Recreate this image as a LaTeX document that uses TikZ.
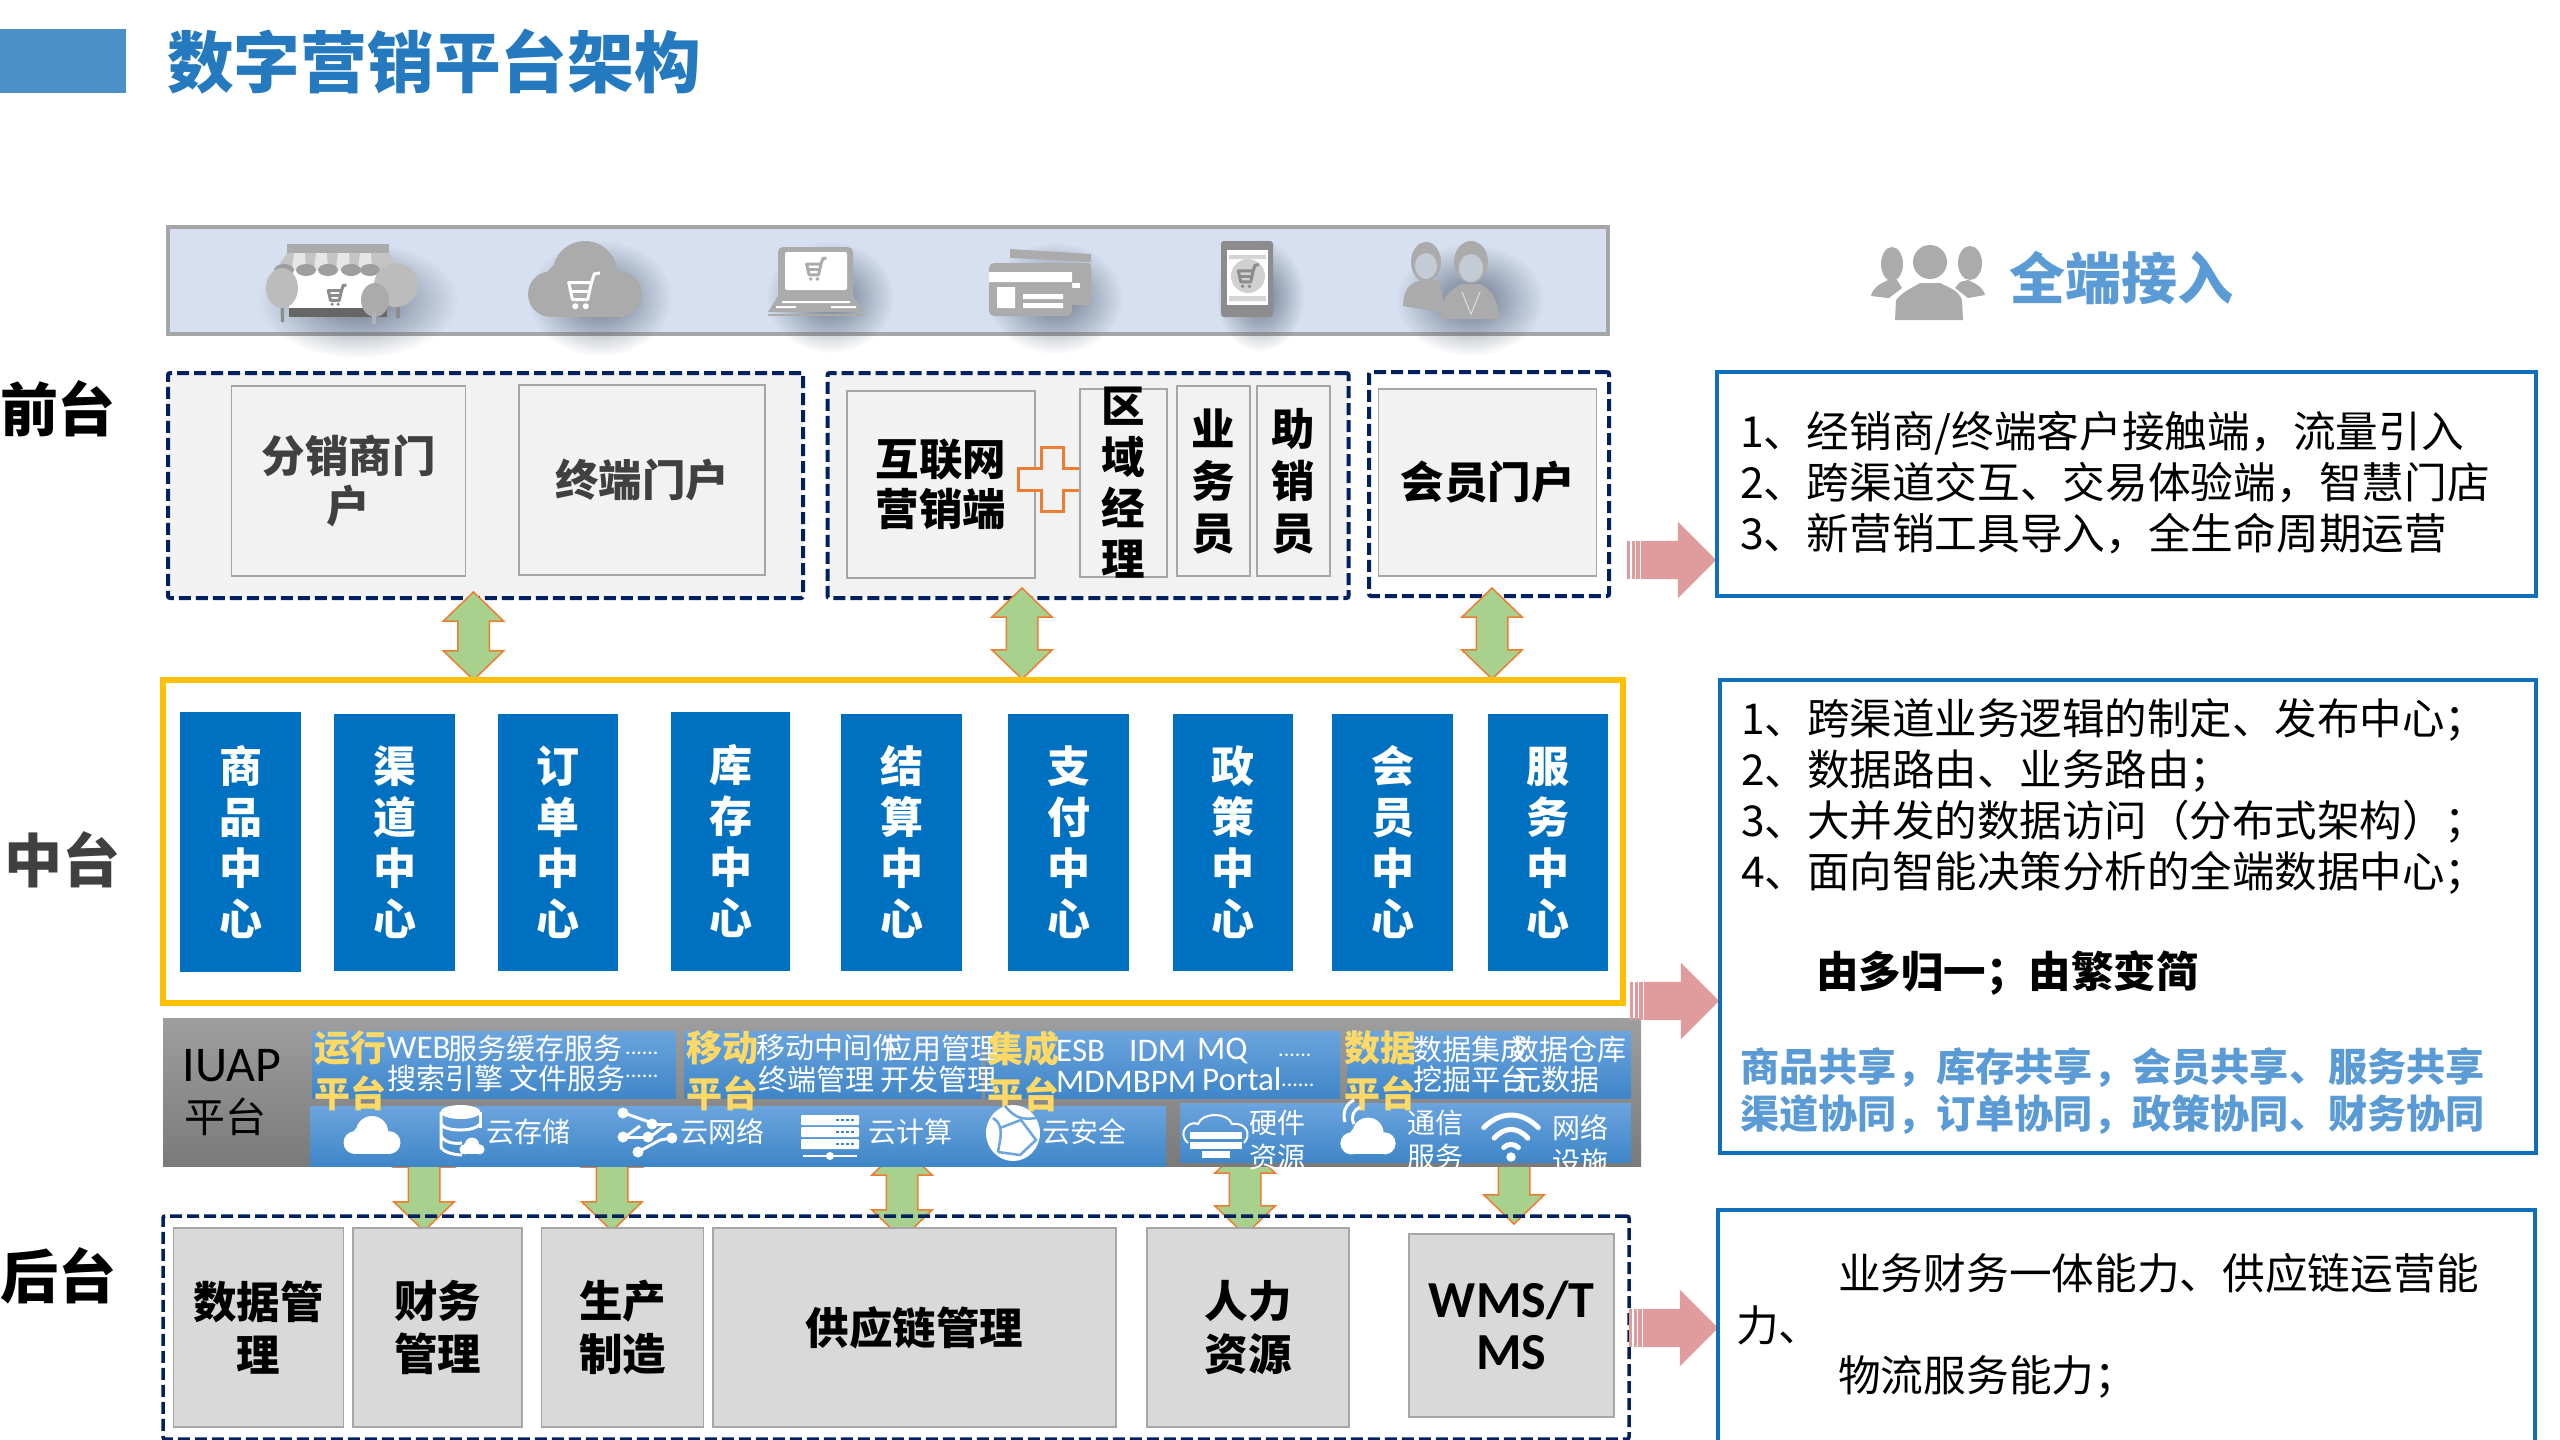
\documentclass[tikz,border=0pt]{standalone}
\usepackage{fontspec}
\setmainfont{Noto Sans CJK SC}
\newfontfamily\latinfont{Carlito}
\usetikzlibrary{shapes.arrows,fadings}
\definecolor{navydash}{HTML}{002060}
\definecolor{boxgray}{HTML}{A6A6A6}
\definecolor{panelgray}{HTML}{F2F2F2}
\definecolor{backgray}{HTML}{D9D9D9}
\definecolor{stripblue}{HTML}{D6E0F0}
\definecolor{centerblue}{HTML}{0070C0}
\definecolor{framegold}{HTML}{FFC000}
\definecolor{arrowgreen}{HTML}{A9D18E}
\definecolor{arroworange}{HTML}{ED7D31}
\definecolor{arrowpink}{HTML}{E09C9C}
\definecolor{noteblue}{HTML}{0F6FBB}
\definecolor{softblue}{HTML}{5B9BD5}
\definecolor{titleblue}{HTML}{2479BF}
\definecolor{barblue}{HTML}{4A90C8}
\definecolor{platyellow}{HTML}{FFD966}
\definecolor{bandtop}{HTML}{6BA4DE}
\definecolor{bandbot}{HTML}{3F86C8}
\definecolor{icongray}{HTML}{ABABAB}
\definecolor{shadowgray}{HTML}{465468}
\tikzfading[name=softedge,inner color=transparent!25,outer color=transparent!100]
\newcommand\fs[2]{\fontsize{#1}{#2}\selectfont}
\tikzset{
	frontbox/.style={draw=boxgray,fill=panelgray,line width=1.5,inner sep=0,align=center,font=\fs{43.5}{50}\bfseries},
	backbox/.style={draw=boxgray,fill=backgray,line width=1.5,inner sep=0,align=center,font=\fs{43.5}{53}\bfseries},
	dashframe/.style={draw=navydash,line width=4,dash pattern=on 12 off 5,inner sep=0,rounded corners=2},
	centercol/.style={fill=centerblue,text=white,inner sep=0,align=center,font=\fs{43}{51}\bfseries},
	updown/.style={double arrow,rotate=90,draw=arroworange,fill=arrowgreen,line width=1.5,inner xsep=0,inner ysep=15,
		double arrow head extend=14.5,double arrow tip angle=92},
	pinkarrow/.style={single arrow,fill=arrowpink,inner xsep=0,inner ysep=19,minimum height=75,
		single arrow head extend=19,single arrow tip angle=90},
	bluepanel/.style={top color=bandtop,bottom color=bandbot,inner sep=0},
	platlabel/.style={text=platyellow,inner sep=0,align=center,font=\fs{36}{46}\bfseries},
	bandtext/.style={text=white,inner sep=0,anchor=west,font=\fs{29}{34}},
	bandlatin/.style={text=white,inner sep=0,anchor=west,font=\latinfont\fs{33}{34}},
	bandtwo/.style={text=white,inner sep=0,align=center,font=\fs{28}{34}},
	notebox/.style={draw=noteblue,line width=4,inner sep=0},
	notetext/.style={inner sep=0,anchor=west,align=left,font=\fs{42.7}{51}},
	sidelabel/.style={inner sep=0,font=\fs{58}{60}\bfseries},
	cartglyph/.pic={
		\draw[#1,line width=3,line join=round] (-14,-10) -- (10,-10) -- (6,8) -- (-10,8) -- cycle;
		\draw[#1,line width=3] (-12,-1) -- (8,-1);
		\draw[#1,line width=3] (10,-10) -- (13,-19) -- (19,-20);
		\fill[#1] (-7,15) circle (3.2) (4,15) circle (3.2);
	},
	cloudglyph/.pic={
		\fill[#1] (-18,8) circle (12) (18,8) circle (12) (0,-3) circle (17) (-9,2) circle (12);
		\fill[#1] (-18,0) rectangle (18,20);
	},
	wifiglyph/.pic={
		\draw[#1,line width=5,line cap=round] (-26,-8) .. controls (-10,-24) and (10,-24) .. (26,-8);
		\draw[#1,line width=5,line cap=round] (-16,2) .. controls (-6,-9) and (6,-9) .. (16,2);
		\draw[#1,line width=5,line cap=round] (-7,11) .. controls (-3,7) and (3,7) .. (7,11);
		\fill[#1] (0,20) circle (4.5);
	}
}
\begin{document}
\begin{tikzpicture}[x=1pt,y=-1pt]
	\useasboundingbox (0,0) rectangle (2560,1440);
	\clip (0,0) rectangle (2560,1440);
	\fill[white] (0,0) rectangle (2560,1440);
	\fill[barblue] (0,29) rectangle (126,93);
	\node[inner sep=0,anchor=west,text=titleblue,font=\fs{66.7}{70}\bfseries] (title) at (167,62) {数字营销平台架构};

	\node[draw=boxgray,fill=stripblue,line width=4,inner sep=0,minimum width=1440,minimum height=107] (strip) at (888,280.5) {};
	\foreach \xc/\yc/\rx/\ry in {358/300/100/58, 600/298/72/58, 830/297/64/56, 1055/298/68/56, 1260/296/44/56, 1470/300/74/56}
		\fill[shadowgray,path fading=softedge] (\xc,\yc) ellipse [x radius=\rx,y radius=\ry];

	\fill[gray!90] (280,290) -- (281,322) -- (284,322) -- (284,290) -- cycle;
	\fill[gray!90] (396,290) -- (396,318) -- (400,318) -- (400,290) -- cycle;
	\fill[white] (289,268) rectangle (387,310);
	\fill[black!60] (289,308) rectangle (387,317);
	\fill[icongray!70] (287,253) -- (389,253) -- (401,270) -- (276,270) -- cycle;
	\foreach \xs in {294,316,338,360}
		\fill[white!70!icongray] (\xs,253) -- (\xs+11,253) -- (\xs+12,270) -- (\xs-2,270) -- cycle;
	\fill[icongray] (287,244) rectangle (389,253);
	\foreach \xs in {284,306,328,351,370}
		\fill[black!38] (\xs,270) circle [x radius=10,y radius=6];
	\fill[icongray!80] (282,288) circle [x radius=16,y radius=20];
	\fill[icongray!80] (396,285) circle [x radius=22,y radius=22];
	\fill[icongray] (375,300) circle [x radius=14,y radius=17];
	\fill[icongray!90] (372,312) rectangle (376,324);
	\pic[scale=0.55] at (336,296) {cartglyph=black!45};

	\pic[scale=1.9] at (585,279) {cloudglyph=icongray};
	\pic[scale=0.95] at (582,292) {cartglyph=white};

	\fill[icongray,rounded corners=5] (778,247) rectangle (853,300);
	\fill[white,rounded corners=2] (785,252) rectangle (847,290);
	\pic[scale=0.6] at (815,270) {cartglyph=icongray};
	\fill[icongray] (778,296) -- (853,296) -- (864,312) -- (768,312) -- cycle;
	\fill[white] (782,301) rectangle (850,303) (776,306) rectangle (796,308) (831,306) rectangle (856,308);
	\fill[icongray] (768,314) rectangle (864,316);

	\fill[icongray] (1010,249) -- (1091,254) -- (1091,262) -- (1010,258) -- cycle;
	\fill[icongray,rounded corners=3] (1060,263) rectangle (1091,305);
	\fill[white] (1072,283) rectangle (1080,288);
	\fill[icongray,rounded corners=5] (989,263) rectangle (1072,316);
	\fill[white] (989,272) rectangle (1072,282) (997,287) rectangle (1015,308) (1023,294) rectangle (1063,299) (1023,303) rectangle (1063,308);

	\fill[black!45,rounded corners=3] (1221,241) rectangle (1273,317);
	\fill[white] (1227,250) rectangle (1268,305);
	\fill[icongray!50] (1229,255) rectangle (1266,259) (1229,296) rectangle (1266,301);
	\fill[icongray!55] (1248,276) circle (17);
	\pic[scale=0.62] at (1247,277) {cartglyph=black!45};

	\fill[icongray] (1403,306) .. controls (1404,285) and (1412,283) .. (1422,280) -- (1440,280) -- (1445,313) -- cycle;
	\fill[icongray] (1426,262) circle [x radius=15,y radius=20];
	\fill[stripblue!60!icongray] (1426,266) circle [x radius=11,y radius=13];
	\fill[icongray] (1440,319) .. controls (1442,295) and (1452,288) .. (1462,284) -- (1480,284) .. controls (1492,290) and (1498,300) .. (1499,319) -- cycle;
	\fill[icongray] (1471,262) circle [x radius=17,y radius=21];
	\fill[stripblue!60!icongray] (1471,268) circle [x radius=12,y radius=14];
	\draw[stripblue,line width=1] (1462,292) -- (1471,314) -- (1480,292);

	\fill[icongray] (1930,262) circle [x radius=17,y radius=17];
	\fill[icongray] (1895,320) -- (1896,300) .. controls (1905,290) and (1912,288) .. (1920,283) -- (1940,283) .. controls (1950,288) and (1958,290) .. (1962,300) -- (1963,320) -- cycle;
	\fill[icongray] (1892,264) circle [x radius=11,y radius=17];
	\fill[icongray] (1871,296) .. controls (1873,287) and (1880,284) .. (1888,280) -- (1897,280) -- (1902,288) -- (1889,298) -- (1888,298) -- cycle;
	\fill[icongray] (1970,263) circle [x radius=12,y radius=17];
	\fill[icongray] (1985,295) .. controls (1983,287) and (1976,284) .. (1968,280) -- (1960,282) -- (1955,288) -- (1968,298) -- cycle;
	\node[inner sep=0,anchor=west,text=softblue,font=\fs{56}{60}\bfseries] (quanduan) at (2009,278) {全端接入};

	\node[sidelabel] (qiantai) at (58,409) {前台};
	\node[sidelabel,text=black!75] (zhongtai) at (63,860) {中台};
	\node[sidelabel] (houtai) at (59,1276) {后台};

	\node[dashframe,fill=panelgray,minimum width=635,minimum height=225] (frontA) at (485.5,485.5) {};
	\node[dashframe,fill=panelgray,minimum width=521,minimum height=225] (frontB) at (1088,485.5) {};
	\node[dashframe,minimum width=240,minimum height=224] (frontC) at (1489,484) {};
	\node[frontbox,text=black!75,minimum width=234,minimum height=190] (fenxiao) at (348.5,481) {分销商门\\户};
	\node[frontbox,text=black!75,minimum width=246,minimum height=190] (zhongduan) at (642,480) {终端门户};
	\node[frontbox,minimum width=188,minimum height=187] (hulian) at (941,484.5) {互联网\\营销端};
	\draw[arroworange,fill=panelgray,line width=3] (1041,447) -- (1063,447) -- (1063,468) -- (1086,468) -- (1086,490) -- (1063,490) -- (1063,511) -- (1041,511) -- (1041,490) -- (1018,490) -- (1018,468) -- (1041,468) -- cycle;
	\node[frontbox,minimum width=87,minimum height=188] (quyu) at (1123.5,483) {};
	\node[inner sep=0,align=center,font=\fs{43.5}{51}\bfseries] (quyutext) at (quyu) {区\\域\\经\\理};
	\node[frontbox,minimum width=73,minimum height=190,font=\fs{43.5}{52}\bfseries] (yewu) at (1213.5,481) {业\\务\\员};
	\node[frontbox,minimum width=73,minimum height=190,font=\fs{43.5}{52}\bfseries] (zhuxiao) at (1293.5,481) {助\\销\\员};
	\node[frontbox,minimum width=218,minimum height=187] (huiyuan) at (1487.5,482.5) {会员门户};

	\foreach \name/\xc/\ytop/\ybot in {linkA/473.5/592/680, linkB/1022/588/679, linkC/1492/588/679, downA/424/1138/1231, downB/612/1138/1231, downC/902/1146/1239, downD/1245/1144/1235, downE/1514/1130/1224}
		\node[updown,minimum height={\ybot-\ytop}] (\name) at (\xc,{(\ytop+\ybot)/2}) {};

	\node[draw=framegold,line width=6,inner sep=0,minimum width=1460,minimum height=323] (midframe) at (893,841.5) {};
	\foreach \i/\xa/\xb/\ya/\yb/\t in {1/180/301/712/972/商\\品\\中\\心, 2/334/455/714/971/渠\\道\\中\\心, 3/498/618/714/971/订\\单\\中\\心, 4/671/790/712/971/库\\存\\中\\心, 5/841/962/714/971/结\\算\\中\\心, 6/1008/1129/714/971/支\\付\\中\\心, 7/1173/1293/714/971/政\\策\\中\\心, 8/1332/1453/714/971/会\\员\\中\\心, 9/1488/1608/714/971/服\\务\\中\\心}
		\node[centercol,minimum width={\xb-\xa},minimum height={\yb-\ya}] (col\i) at ({(\xa+\xb)/2},{(\ya+\yb)/2}) {\t};

	\node[top color=black!38,bottom color=black!52,inner sep=0,minimum width=1478,minimum height=148] (iuap) at (902,1092) {};
	\node[inner sep=0,font=\latinfont\fs{50}{50}] (iuaptext) at (232,1066) {IUAP};
	\node[inner sep=0,font=\fs{41}{41}] (iuaptwo) at (225,1117) {平台};
	\node[bluepanel,minimum width=364,minimum height=67] (runpanel) at (494,1064.5) {};
	\node[bluepanel,minimum width=298,minimum height=67] (movepanel) at (833,1064.5) {};
	\node[bluepanel,minimum width=355,minimum height=67] (intpanel) at (1162.5,1064.5) {};
	\node[bluepanel,minimum width=284,minimum height=67] (datapanel) at (1489,1064.5) {};
	\node[bluepanel,minimum width=856,minimum height=60] (cloudpanel) at (738,1136) {};
	\node[bluepanel,minimum width=451,minimum height=59] (hardpanel) at (1405.5,1132.5) {};

	\node[bandlatin] (webtext) at (387,1048) {WEB};
	\node[bandtext] (webserv) at (448,1048) {服务缓存服务};
	\node[bandlatin,font=\latinfont\fs{22}{24}] (webdots) at (625,1053) {......};
	\node[bandtext] (search) at (387,1078) {搜索引擎 文件服务};
	\node[bandlatin,font=\latinfont\fs{22}{24}] (searchdots) at (625,1076) {......};
	\node[bandtext] (movemid) at (756,1048) {移动中间件};
	\node[bandtext] (moveapp) at (883,1048) {应用管理};
	\node[bandtext] (moveterm) at (758,1079) {终端管理};
	\node[bandtext] (movedev) at (880,1079) {开发管理};
	\node[bandlatin] (esb) at (1056,1051) {ESB};
	\node[bandlatin] (idm) at (1129,1051) {IDM};
	\node[bandlatin] (mq) at (1197,1051) {MQ};
	\node[bandlatin,font=\latinfont\fs{22}{24}] (intdots) at (1278,1055) {......};
	\node[bandlatin] (mdm) at (1056,1082) {MDMBPM};
	\node[bandlatin] (portal) at (1202,1079) {Portal};
	\node[bandlatin,font=\latinfont\fs{22}{24}] (portaldots) at (1281,1085) {......};
	\node[bandtext] (dataint) at (1413,1050) {数据集成};
	\node[bandtext] (datahouse) at (1510,1050) {数据仓库};
	\node[bandtext] (datamine) at (1413,1079) {挖掘平台};
	\node[bandtext] (datameta) at (1512,1079) {元数据};
	\node[platlabel] (runplat) at (350,1071) {运行\\平台};
	\node[platlabel] (moveplat) at (722,1071) {移动\\平台};
	\node[platlabel] (intplat) at (1023,1071) {集成\\平台};
	\node[platlabel] (dataplat) at (1380,1071) {数据\\平台};

	\pic[scale=0.95] at (372,1135) {cloudglyph=white};
	\draw[white,line width=3] (441,1112) -- (441,1146) .. controls (441,1152) and (455,1155) .. (462,1155);
	\draw[white,line width=3] (480,1112) -- (480,1128);
	\draw[white,line width=3] (441,1124) .. controls (445,1132) and (475,1132) .. (480,1124);
	\draw[white,line width=3] (441,1136) .. controls (445,1143) and (455,1144) .. (462,1143);
	\fill[white] (460.5,1112) circle [x radius=20,y radius=7];
	\pic[scale=0.42] at (472,1146) {cloudglyph=white};
	\node[bandtwo] (cunchu) at (528,1132) {云存储};

	\foreach \xa/\ya/\xb/\yb in {624/1113/655/1124, 655/1124/672/1124, 624/1137/650/1137, 650/1137/666/1125, 638/1152/660/1140, 660/1140/672/1138, 640/1126/625/1137}
		\draw[white,line width=3] (\xa,\ya) -- (\xb,\yb);
	\foreach \xa/\ya in {623/1113, 652/1124, 623/1137, 648/1137, 638/1152, 672/1138}
		\fill[white] (\xa,\ya) circle (5.5);
	\node[bandtwo] (wangluo) at (722,1132) {云网络};

	\foreach \ya in {1115,1127,1139}
		\fill[white,rounded corners=1] (801,\ya) rectangle (859,\ya+10);
	\foreach \ya in {1120,1132,1144}
		\draw[bandbot,line width=2,dash pattern=on 3 off 2] (836,\ya) -- (856,\ya);
	\fill[white] (803,1155) rectangle (857,1157);
	\fill[white] (830,1156) circle (4);
	\node[bandtwo] (jisuan) at (910,1132) {云计算};

	\fill[white] (1013,1133) circle [x radius=27,y radius=28];
	\draw[bandtop,line width=2.5] (993,1118) .. controls (1005,1125) and (1000,1140) .. (998,1152);
	\draw[bandtop,line width=2.5] (1005,1106) .. controls (1015,1118) and (1022,1120) .. (1036,1118);
	\draw[bandtop,line width=2.5] (1000,1128) -- (1021,1120) -- (1036,1140) -- (1020,1155) -- (998,1152);
	\node[bandtwo] (anquan) at (1084,1132) {云安全};

	\draw[white,line width=2] (1188,1143) .. controls (1176,1132) and (1190,1120) .. (1198,1124) .. controls (1202,1112) and (1228,1112) .. (1232,1124) .. controls (1246,1122) and (1252,1134) .. (1244,1143);
	\foreach \ya in {1132,1142}
		\fill[white] (1190,\ya) rectangle (1242,\ya+7);
	\fill[white] (1202,1151) rectangle (1230,1158);
	\node[bandtwo] (yingjian) at (1277,1140) {硬件\\资源};

	\pic[scale=0.92] at (1368,1136) {cloudglyph=white};
	\draw[white,line width=3] (1345,1122) .. controls (1342,1112) and (1346,1104) .. (1354,1100);
	\draw[white,line width=3] (1354,1124) .. controls (1350,1116) and (1354,1110) .. (1360,1107);
	\node[bandtwo] (tongxin) at (1435,1140) {通信\\服务};

	\pic[scale=1.05] at (1511,1136) {wifiglyph=white};
	\node[bandtwo] (wangluoA) at (1580,1145) {网络\\设施};

	\node[dashframe,line width=3.5,minimum width=1466,minimum height=223] (backframe) at (896,1327.5) {};
	\node[backbox,minimum width=170,minimum height=199] (shuju) at (258.5,1327.5) {数据管\\理};
	\node[backbox,minimum width=169,minimum height=199] (caiwu) at (437.5,1327.5) {财务\\管理};
	\node[backbox,minimum width=162,minimum height=199] (shengchan) at (622.5,1327.5) {生产\\制造};
	\node[backbox,minimum width=403,minimum height=199] (gongying) at (914.5,1327.5) {供应链管理};
	\node[backbox,minimum width=202,minimum height=199] (renli) at (1248,1327.5) {人力\\资源};
	\node[backbox,minimum width=205,minimum height=183,font=\latinfont\fs{52}{52}\bfseries] (wms) at (1511.5,1325.5) {WMS/T\\MS};

	\foreach \name/\xs/\yc in {pinkA/1641/560, pinkB/1644/1001, pinkC/1643/1328}{
		\node[pinkarrow] (\name) at (\xs+28,\yc) {};
		\foreach \dx/\w in {-14/3,-9.5/3,-5/4}
			\fill[arrowpink] (\xs+\dx,\yc-19) rectangle (\xs+\dx+\w,\yc+19);
	}

	\node[notebox,minimum width=819,minimum height=224] (noteA) at (2126.5,484) {};
	\node[notetext] (noteAtext) at (1740,483) {1、经销商/终端客户接触端，流量引入\\2、跨渠道交互、交易体验端，智慧门店\\3、新营销工具导入，全生命周期运营};
	\node[notebox,minimum width=816,minimum height=473] (noteB) at (2128,916.5) {};
	\node[notetext,font=\fs{42.5}{51}] (noteBtext) at (1741,796.5) {1、跨渠道业务逻辑的制定、发布中心；\\2、数据路由、业务路由；\\3、大并发的数据访问（分布式架构）；\\4、面向智能决策分析的全端数据中心；};
	\node[notetext,font=\fs{42.5}{51}\bfseries] (noteBbold) at (1816,973) {由多归一；由繁变简};
	\node[notetext,text=softblue,font=\fs{39.2}{47}\bfseries] (noteBblue) at (1740,1091.5) {商品共享，库存共享，会员共享、服务共享\\渠道协同，订单协同，政策协同、财务协同};
	\node[notebox,minimum width=817,minimum height=300] (noteC) at (2126.5,1360) {};
	\node[notetext] (noteCa) at (1838,1273) {业务财务一体能力、供应链运营能};
	\node[notetext] (noteCb) at (1736,1325) {力、};
	\node[notetext] (noteCc) at (1838,1377) {物流服务能力；};
\end{tikzpicture}
\end{document}
